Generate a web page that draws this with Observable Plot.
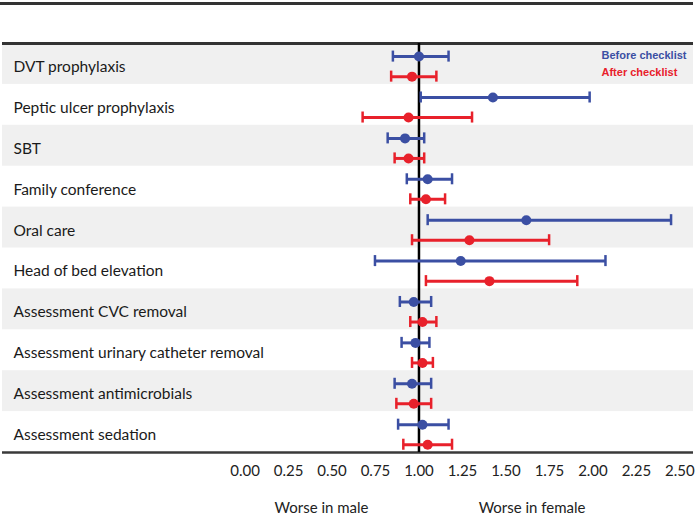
<!DOCTYPE html>
<html>
<head>
<meta charset="utf-8">
<script src="https://cdn.jsdelivr.net/npm/d3@7"></script>
<script src="https://cdn.jsdelivr.net/npm/@observablehq/plot@0.6"></script>
<style>
  html, body { margin: 0; padding: 0; background: #fff; }
  #topline { margin-top: 2px; border-top: 3px solid #333; width: 693px; }
  #chart svg { display: block; }
</style>
</head>
<body>
<div id="topline"></div>
<div id="chart"></div>
<script>
// Care-process measures, top to bottom
const categories = [
  "DVT prophylaxis",
  "Peptic ulcer prophylaxis",
  "SBT",
  "Family conference",
  "Oral care",
  "Head of bed elevation",
  "Assessment CVC removal",
  "Assessment urinary catheter removal",
  "Assessment antimicrobials",
  "Assessment sedation"
];

// Odds ratios (female vs male) with 95% CI, before the checklist
const beforeEst = [1.00, 1.425, 0.92, 1.05, 1.617, 1.24, 0.97, 0.98, 0.96, 1.02];
const beforeLo  = [0.85, 1.01, 0.82, 0.93, 1.05, 0.747, 0.89, 0.90, 0.86, 0.88];
const beforeHi  = [1.17, 1.981, 1.03, 1.19, 2.449, 2.072, 1.07, 1.06, 1.07, 1.17];

// ... and after the checklist
const afterEst = [0.96, 0.94, 0.94, 1.04, 1.29, 1.405, 1.02, 1.02, 0.97, 1.05];
const afterLo  = [0.84, 0.676, 0.86, 0.95, 0.96, 1.04, 0.95, 0.96, 0.87, 0.91];
const afterHi  = [1.10, 1.305, 1.03, 1.15, 1.748, 1.91, 1.10, 1.08, 1.07, 1.19];

const seriesNames = ["Before checklist", "After checklist"];
const seriesColors = ["#3b4fa3", "#e8212b"];
const tickValues = [0, 0.25, 0.5, 0.75, 1, 1.25, 1.5, 1.75, 2, 2.25, 2.5];
const sideLabels = ["Worse in male", "Worse in female"];

// Long table: one row per measure and period; the two periods sit above/below the row centre
const rows = [];
categories.forEach((name, i) => {
  rows.push({name, series: seriesNames[0], est: beforeEst[i], lo: beforeLo[i], hi: beforeHi[i], pos: i - 0.18});
  rows.push({name, series: seriesNames[1], est: afterEst[i], lo: afterLo[i], hi: afterHi[i], pos: i + 0.31});
});
const bands = categories.map((name, i) => ({i})).filter(d => d.i % 2 === 0);
const capHalf = 0.135;

const chart = Plot.plot({
  width: 696,
  height: 511,
  marginTop: 38,
  marginBottom: 64,
  marginLeft: 2,
  marginRight: 3,
  style: {fontFamily: "Lato, 'Open Sans', sans-serif", fontSize: "15px", color: "#222", background: "#fff"},
  x: {domain: [-1.394, 2.578], ticks: tickValues, tickFormat: d3.format(".2f")},
  y: {domain: [-0.5, categories.length - 0.5], reverse: true, axis: null},
  color: {domain: seriesNames, range: seriesColors},
  marks: [
    // alternating row shading
    Plot.rect(bands, {y1: d => d.i - 0.5, y2: d => d.i + 0.5, fill: "#f0f0f0"}),
    // table borders
    Plot.ruleY([-0.5], {stroke: "#333", strokeWidth: 3}),
    Plot.ruleY([categories.length - 0.5], {stroke: "#3a3a3a", strokeWidth: 2.5}),
    // measure names
    Plot.text(categories, {
      y: (d, i) => i, text: d => d, frameAnchor: "left", textAnchor: "start",
      dx: 11, dy: 3, fontSize: 15.5, fill: "#1a1a1a"
    }),
    // no-difference reference line
    Plot.ruleX([1], {stroke: "#000", strokeWidth: 2.5}),
    // confidence intervals with end caps
    Plot.ruleY(rows, {y: "pos", x1: "lo", x2: "hi", stroke: "series", strokeWidth: 3}),
    Plot.ruleX(rows, {x: "lo", y1: d => d.pos - capHalf, y2: d => d.pos + capHalf, stroke: "series", strokeWidth: 2.5}),
    Plot.ruleX(rows, {x: "hi", y1: d => d.pos - capHalf, y2: d => d.pos + capHalf, stroke: "series", strokeWidth: 2.5}),
    // point estimates
    Plot.dot(rows, {x: "est", y: "pos", r: 5, fill: "series", stroke: "none"}),
    // legend
    Plot.text(seriesNames, {
      y: (d, i) => -0.21 + i * 0.42, text: d => d, fill: d => d,
      frameAnchor: "right", textAnchor: "start", dx: -92,
      fontFamily: "'Liberation Sans', Arial, sans-serif", fontWeight: "bold", fontSize: 11
    }),
    // x axis
    Plot.axisX({ticks: tickValues, tickFormat: d3.format(".2f"), tickSize: 0, tickPadding: 13, fontSize: 15}),
    // direction labels
    Plot.text(sideLabels, {
      x: (d, i) => [0.44, 1.65][i], text: d => d, frameAnchor: "bottom", dy: 60, fontSize: 15, fill: "#222"
    })
  ]
});

document.getElementById("chart").append(chart);
</script>
</body>
</html>
